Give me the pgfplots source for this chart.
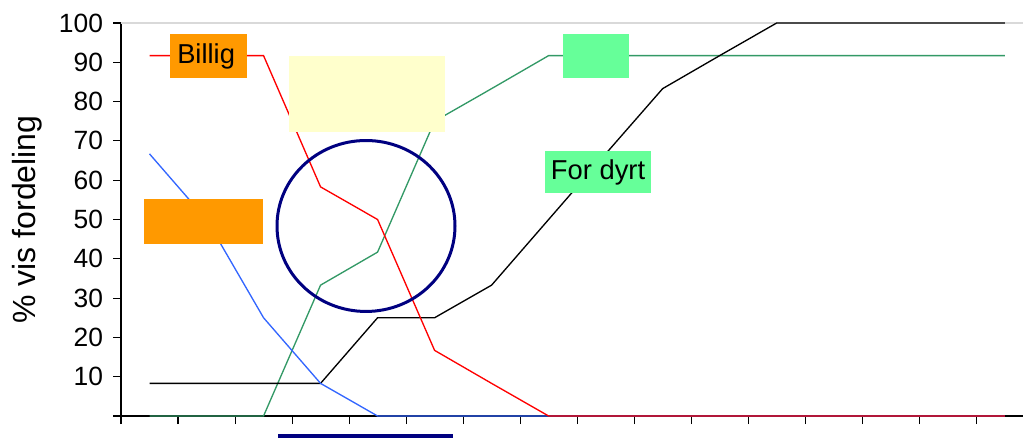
\documentclass[border=0pt]{standalone}
\usepackage{fontspec}
\setmainfont{Liberation Sans}
\usepackage{pgfplots}
\pgfplotsset{compat=1.18}
\usepackage{pgfplotstable}

\definecolor{xlred}{RGB}{255,0,0}
\definecolor{xlblue}{RGB}{51,102,255}
\definecolor{xlgreen}{RGB}{51,153,102}
\definecolor{xlorange}{RGB}{255,153,0}
\definecolor{xlyellow}{RGB}{255,255,204}
\definecolor{xlmint}{RGB}{102,255,153}
\definecolor{xlnavy}{RGB}{0,0,128}

% andel (%) per kategori, 16 punkter
\pgfplotstableread{
i  red   blue  green black
0  91.7  66.7  0     8.3
1  91.7  50    0     8.3
2  91.7  25    0     8.3
3  58.3  8.3   33.3  8.3
4  50    0     41.7  25
5  16.7  0     75    25
6  8.3   0     83.3  33.3
7  0     0     91.7  50
8  0     0     91.7  66.7
9  0     0     91.7  83.3
10 0     0     91.7  91.7
11 0     0     91.7  100
12 0     0     91.7  100
13 0     0     91.7  100
14 0     0     91.7  100
15 0     0     91.7  100
}\fordeling

\begin{document}
\begin{tikzpicture}
\begin{axis}[
    at={(90.75pt,17.25pt)}, anchor=south west,
    scale only axis,
    width=676.5pt, height=294.75pt,
    xmin=-0.5, xmax=15.32,
    ymin=0, ymax=100,
    axis x line*=bottom,
    axis y line*=left,
    axis line style={black, line width=0.8pt},
    xtick={-0.5,0.5,...,14.5},
    xticklabels={},
    ytick={0,10,...,100},
    yticklabels={,10,20,30,40,50,60,70,80,90,100},
    tick align=outside,
    major tick length=6pt,
    tick style={black, line width=0.8pt},
    ticklabel style={font=\fontsize{19.8}{21}\selectfont},
    yticklabel style={xshift=-4pt},
    /pgf/number format/assume math mode=true,
    ylabel={\% vis fordeling},
    ylabel style={font=\fontsize{24}{26}\selectfont, at={(axis description cs:-0.104,0.5)}, anchor=center},
    clip=false,
    every axis plot/.append style={line width=1pt, mark=none},
]
\draw[gray!30, line width=1.1pt] (rel axis cs:0,1) -- (rel axis cs:1,1);
\addplot[xlgreen] table[x=i, y=green] {\fordeling};
\addplot[black] table[x=i, y=black] {\fordeling};
\addplot[xlblue] table[x=i, y=blue] {\fordeling};
\addplot[xlred] table[x=i, y=red] {\fordeling};

\fill[xlorange] (axis cs:0.36,97.2) rectangle (axis cs:1.71,86.0);
\node[anchor=west, inner sep=0pt, font=\fontsize{20.5}{22}\selectfont] at (axis cs:0.482,91.6) {Billig};
\fill[xlorange] (axis cs:-0.096,55.2) rectangle (axis cs:1.99,43.8);
\fill[xlyellow] (axis cs:2.447,91.6) rectangle (axis cs:5.184,72.3);
\fill[xlmint] (axis cs:7.254,97.2) rectangle (axis cs:8.412,86.1);
\fill[xlmint] (axis cs:6.938,67.4) rectangle (axis cs:8.797,56.8);
\node[inner sep=0pt, font=\fontsize{20.5}{22}\selectfont] at (axis cs:7.867,62.1) {For dyrt};
\draw[xlnavy, line width=2.25pt] (axis cs:3.797,48.35) ellipse [x radius=66.75pt, y radius=64.1pt];
\draw[xlnavy, line width=3pt] (axis cs:2.254,-5.09) -- (axis cs:5.324,-5.09);
\end{axis}
\pgfresetboundingbox
\path[use as bounding box] (0,0) rectangle (767.25pt,329.25pt);
\end{tikzpicture}
\end{document}
